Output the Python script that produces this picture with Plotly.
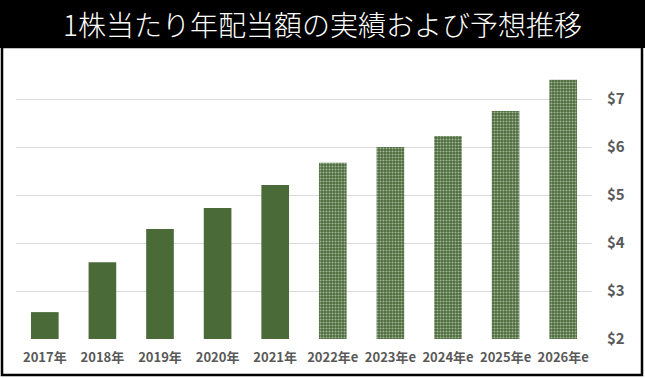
import plotly.graph_objects as go

categories = ["2017年", "2018年", "2019年", "2020年", "2021年",
              "2022年e", "2023年e", "2024年e", "2025年e", "2026年e"]
dividends = [2.56, 3.60, 4.29, 4.73, 5.21, 5.67, 6.00, 6.23, 6.75, 7.40]
is_estimate = [False] * 5 + [True] * 5
tick_values = [2, 3, 4, 5, 6, 7]
tick_labels = ["$2", "$3", "$4", "$5", "$6", "$7"]
title_text = "1株当たり年配当額の実績および予想推移"

GREEN = "#4a6a38"
base = 2

act_x = [c for c, e in zip(categories, is_estimate) if not e]
act_y = [v - base for v, e in zip(dividends, is_estimate) if not e]
est_x = [c for c, e in zip(categories, is_estimate) if e]
est_y = [v - base for v, e in zip(dividends, is_estimate) if e]

fig = go.Figure()
fig.add_trace(go.Bar(x=act_x, y=act_y, base=base, marker=dict(color=GREEN, line=dict(width=0)),
                     hoverinfo="skip"))
fig.add_trace(go.Bar(x=est_x, y=est_y, base=base,
                     marker=dict(color=GREEN, line=dict(width=0),
                                 pattern=dict(shape=".", fgcolor="#ffffff", bgcolor=GREEN,
                                              size=3, solidity=0.4, fillmode="overlay")),
                     hoverinfo="skip"))

fig.update_layout(
    width=645, height=378,
    margin=dict(l=16, r=53, t=51, b=39),
    paper_bgcolor="white", plot_bgcolor="white",
    showlegend=False, barmode="overlay", bargap=0.52,
    font=dict(family="Noto Sans CJK JP, sans-serif", color="#595959"),
    xaxis=dict(categoryorder="array", categoryarray=categories, showgrid=False,
               showline=False, ticks="", ticklabelstandoff=9,
               tickfont=dict(size=13, color="#595959", family="Noto Sans CJK JP", weight="bold"),
               range=[-0.5, 9.5]),
    yaxis=dict(side="right", range=[2, 8], tickvals=tick_values, ticktext=tick_labels,
               showgrid=True, gridcolor="#d9d9d9", gridwidth=1, zeroline=False, showline=False,
               ticks="", ticklabelstandoff=14,
               tickfont=dict(size=15, color="#595959", family="Noto Sans CJK JP", weight="bold")),
    shapes=[
        dict(type="rect", xref="paper", yref="paper", x0=-16/576, x1=629/576,
             y0=1 + 3/288, y1=1 + 51/288, fillcolor="black", line=dict(width=0), layer="above"),
        dict(type="rect", xref="paper", yref="paper", x0=-14/576, x1=626/576,
             y0=-36/288, y1=1 + 4/288, fillcolor="rgba(0,0,0,0)",
             line=dict(color="black", width=2.5)),
    ],
    annotations=[
        dict(text=title_text, xref="paper", yref="paper", x=0.5 + (306 - 288)/576, y=1 + 27/288,
             xanchor="center", yanchor="middle", showarrow=False,
             font=dict(size=28, color="white", family="Noto Sans CJK JP", weight=300)),
    ],
)

fig.write_html("out.html", config={"displayModeBar": False},
               post_script="document.body.style.margin='0';document.body.style.overflow='hidden';")
